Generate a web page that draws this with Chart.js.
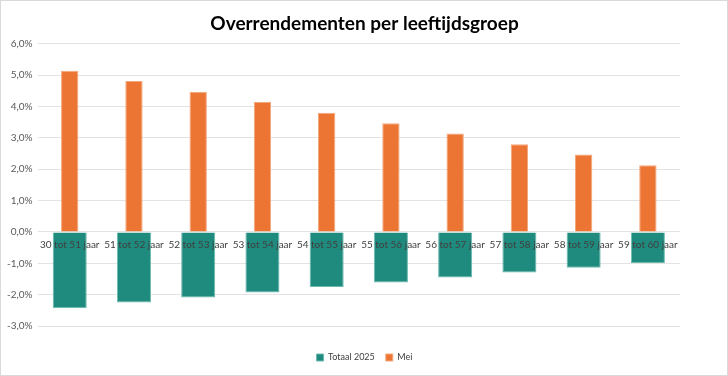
<!DOCTYPE html>
<html>
<head>
<meta charset="utf-8">
<script src="https://cdn.jsdelivr.net/npm/chart.js@4/dist/chart.umd.min.js"></script>
<style>
  html, body { margin: 0; padding: 0; background: #fff; }
  #wrap { width: 726px; height: 374px; border: 1px solid #d9d9d9; position: relative; }
</style>
</head>
<body>
<div id="wrap"><canvas id="chart"></canvas></div>
<script>
const categories = ['30 tot 51 jaar', '51 tot 52 jaar', '52 tot 53 jaar', '53 tot 54 jaar', '54 tot 55 jaar',
                    '55 tot 56 jaar', '56 tot 57 jaar', '57 tot 58 jaar', '58 tot 59 jaar', '59 tot 60 jaar'];
const totaal2025 = [-2.43, -2.25, -2.09, -1.93, -1.76, -1.61, -1.45, -1.29, -1.14, -0.99];
const mei = [5.14, 4.81, 4.47, 4.14, 3.80, 3.47, 3.14, 2.80, 2.47, 2.13];
const yTicks = [-3, -2, -1, 0, 1, 2, 3, 4, 5, 6];

const fmt = v => v.toFixed(1).replace('.', ',') + '%';

// category labels sit on the zero line, drawn over the bars (like Excel "next to axis")
const axisLabels = {
    id: 'axisLabels',
    afterDatasetsDraw(chart) {
        const { ctx, scales: { x, y } } = chart;
        const y0 = y.getPixelForValue(0);
        ctx.save();
        ctx.fillStyle = '#404040';
        ctx.font = 'normal 400 10px Lato, sans-serif';
        ctx.textAlign = 'center';
        ctx.textBaseline = 'middle';
        categories.forEach((c, i) => ctx.fillText(c, x.getPixelForValue(i), y0 + 13));
        ctx.restore();
    }
};

const ctx = document.getElementById('chart').getContext('2d');
const chart = new Chart(ctx, {
    type: 'bar',
    data: {
        labels: categories,
        datasets: [{
            label: 'Totaal 2025',
            data: totaal2025,
            backgroundColor: '#1f8a7e',
            borderColor: '#6cbab0',
            borderWidth: 1,
            grouped: false,
            barPercentage: 0.53,
            categoryPercentage: 1
        }, {
            label: 'Mei',
            data: mei,
            backgroundColor: '#ec7533',
            borderColor: '#f3a77a',
            borderWidth: 1,
            grouped: false,
            barPercentage: 0.27,
            categoryPercentage: 1
        }]
    },
    options: {
        responsive: true,
        maintainAspectRatio: false,
        animation: false,
        layout: {
            padding: { left: 1, right: 0, top: 0, bottom: 3 }
        },
        plugins: {
            title: {
                display: true,
                text: 'Overrendementen per leeftijdsgroep',
                color: '#000',
                font: { family: 'Lato', size: 19, weight: 'bold' },
                padding: { top: 11, bottom: 9 }
            },
            legend: {
                position: 'bottom',
                labels: {
                    color: '#404040',
                    font: { family: 'Lato', size: 9 },
                    boxWidth: 7,
                    boxHeight: 7,
                    padding: 11
                }
            },
            tooltip: { enabled: false }
        },
        scales: {
            x: {
                grid: { display: false },
                border: { display: false },
                ticks: { display: false },
                afterFit: s => { s.height = 16; }
            },
            y: {
                min: -3,
                max: 6,
                afterBuildTicks: axis => { axis.ticks = yTicks.map(v => ({ value: v })); },
                grid: { color: '#e3e3e3', drawTicks: false },
                border: { display: false },
                ticks: {
                    color: '#595959',
                    font: { family: 'Lato', size: 10 },
                    padding: 5,
                    callback: v => fmt(v)
                }
            },
            yRight: {
                position: 'right',
                grid: { display: false },
                border: { display: false },
                ticks: { display: false },
                afterFit: s => { s.width = 47; }
            }
        }
    },
    plugins: [axisLabels]
});
</script>
</body>
</html>
